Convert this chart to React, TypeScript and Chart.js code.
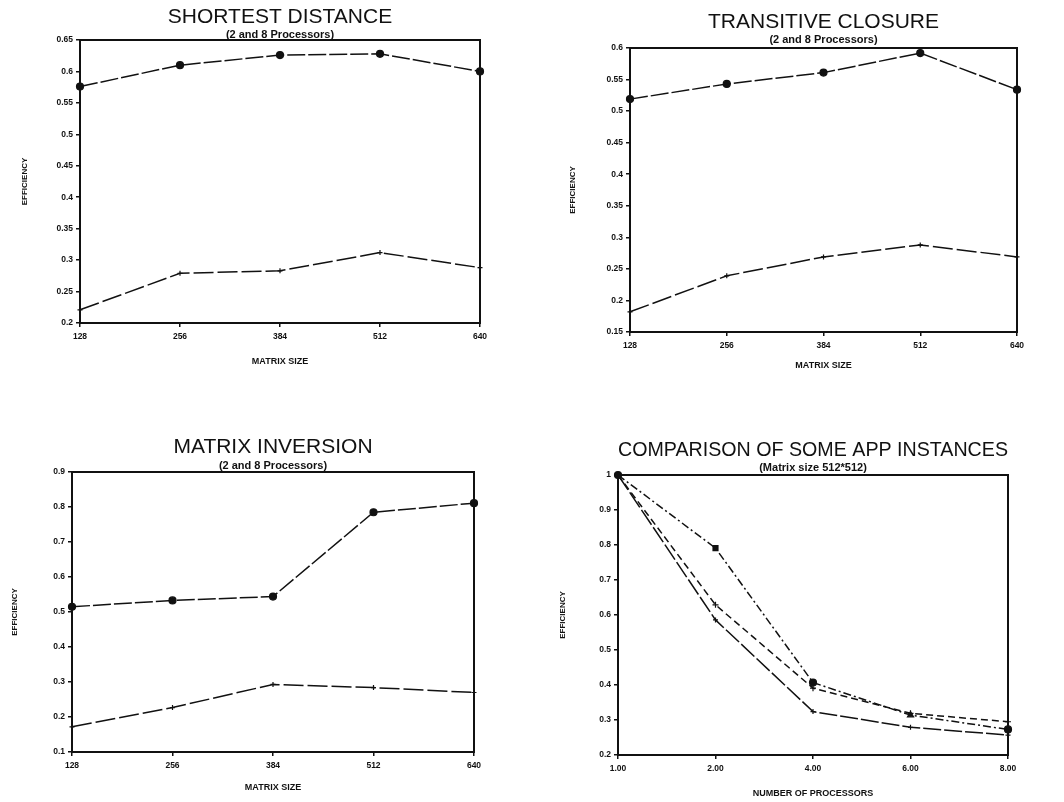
import React, { useEffect, useRef } from 'react';
import { Chart, registerables } from 'chart.js';

Chart.register(...registerables);

// ---- data ----
const matrixSizes = ['128', '256', '384', '512', '640'];

const sdTwoProc = [0.576, 0.61, 0.626, 0.628, 0.6];
const sdEightProc = [0.221, 0.279, 0.283, 0.312, 0.288];

const tcTwoProc = [0.519, 0.543, 0.561, 0.592, 0.534];
const tcEightProc = [0.182, 0.239, 0.269, 0.288, 0.269];

const miTwoProc = [0.515, 0.533, 0.544, 0.785, 0.811];
const miEightProc = [0.172, 0.227, 0.293, 0.284, 0.27];

const processorCounts = ['1.00', '2.00', '4.00', '6.00', '8.00'];
const appSeriesA = [1, 0.791, 0.407, 0.314, 0.273];
const appSeriesB = [1, 0.629, 0.391, 0.319, 0.295];
const appSeriesC = [1, 0.586, 0.324, 0.279, 0.257];

const FONT = '"Liberation Sans", Arial, sans-serif';
const INK = '#111';

const framePlugin = {
  id: 'frame',
  afterDatasetsDraw(chart: any) {
    const { ctx, chartArea: a } = chart;
    ctx.save();
    ctx.strokeStyle = INK;
    ctx.lineWidth = 2;
    ctx.strokeRect(a.left, a.top, a.right - a.left, a.bottom - a.top);
    ctx.restore();
  },
};

function series(data: number[], dash: number[], pointStyle: any, radius: number) {
  return {
    data,
    borderColor: INK,
    backgroundColor: INK,
    borderWidth: 1.5,
    borderDash: dash,
    pointStyle,
    pointRadius: radius,
    pointBorderColor: INK,
    pointBackgroundColor: INK,
    pointBorderWidth: 1.2,
    tension: 0,
    clip: false,
  };
}

type PanelProps = {
  left: number;
  top: number;
  width: number;
  height: number;
  title: string;
  subtitle: string;
  xTitle: string;
  yTitle: string;
  labels: string[];
  datasets: any[];
  yMin: number;
  yMax: number;
  yStep: number;
  yAxisW: number;
  xAxisH: number;
  padRight: number;
  titlePadTop: number;
  titlePadBottom: number;
  subPadBottom: number;
  yTitlePad: number;
  xTitlePad: number;
};

function Panel(p: PanelProps) {
  const ref = useRef<HTMLCanvasElement | null>(null);
  useEffect(() => {
    if (!ref.current) return;
    const tickFont = { family: FONT, size: 8.5, weight: 'bold' as const };
    const chart = new Chart(ref.current, {
      type: 'line',
      data: { labels: p.labels, datasets: p.datasets },
      options: {
        responsive: false,
        animation: false,
        devicePixelRatio: 1,
        layout: { padding: { left: 0, right: p.padRight, top: 0, bottom: 0 } },
        plugins: {
          legend: { display: false },
          tooltip: { enabled: false },
          title: {
            display: true,
            text: p.title,
            fullSize: false,
            color: INK,
            font: { family: FONT, size: 21, weight: 'normal', lineHeight: 1 },
            padding: { top: p.titlePadTop, bottom: p.titlePadBottom },
          },
          subtitle: {
            display: true,
            text: p.subtitle,
            fullSize: false,
            color: INK,
            font: { family: FONT, size: 11, weight: 'bold', lineHeight: 1 },
            padding: { top: 0, bottom: p.subPadBottom },
          },
        },
        scales: {
          x: {
            type: 'category',
            offset: false,
            grid: { display: true, drawOnChartArea: false, drawTicks: true, tickLength: 4, color: INK, lineWidth: 1.5 },
            border: { display: true, color: INK, width: 2 },
            ticks: { color: INK, font: tickFont, padding: 5, maxRotation: 0, autoSkip: false },
            title: {
              display: true,
              text: p.xTitle,
              color: INK,
              font: { family: FONT, size: 9, weight: 'bold', lineHeight: 1 },
              padding: { top: 0, bottom: p.xTitlePad },
            },
            afterFit: (s: any) => {
              s.height = p.xAxisH;
            },
          },
          y: {
            type: 'linear',
            min: p.yMin,
            max: p.yMax,
            grid: { display: true, drawOnChartArea: false, drawTicks: true, tickLength: 4, color: INK, lineWidth: 1.5 },
            border: { display: true, color: INK, width: 2 },
            ticks: {
              color: INK,
              font: tickFont,
              padding: 3,
              stepSize: p.yStep,
              callback: (v: any) => String(Number(Number(v).toFixed(2))),
            },
            title: {
              display: true,
              text: p.yTitle,
              color: INK,
              font: { family: FONT, size: 8, weight: 'bold', lineHeight: 1 },
              padding: { top: p.yTitlePad, bottom: 0 },
            },
            afterFit: (s: any) => {
              s.width = p.yAxisW;
            },
          },
        },
      },
      plugins: [framePlugin],
    } as any);
    return () => chart.destroy();
  }, []);
  return (
    <div style={{ position: 'absolute', left: p.left, top: p.top, width: p.width, height: p.height }}>
      <canvas ref={ref} width={p.width} height={p.height} style={{ display: 'block' }} />
    </div>
  );
}

export default function App() {
  const twoStyle = (d: number[]) => series(d, [18, 3], 'circle', 3.5);
  const eightStyle = (d: number[]) => series(d, [20, 4], 'cross', 2.5);
  return (
    <div style={{ position: 'absolute', left: 0, top: 0, width: 1064, height: 802, background: '#fff', overflow: 'hidden' }}>
      <Panel
        left={0} top={0} width={500} height={380}
        title="SHORTEST DISTANCE" subtitle="(2 and 8 Processors)"
        xTitle="MATRIX SIZE" yTitle="EFFICIENCY"
        labels={matrixSizes}
        datasets={[twoStyle(sdTwoProc), eightStyle(sdEightProc)]}
        yMin={0.2} yMax={0.65} yStep={0.05}
        yAxisW={80} xAxisH={57} padRight={20}
        titlePadTop={7} titlePadBottom={1} subPadBottom={0}
        yTitlePad={21} xTitlePad={14}
      />
      <Panel
        left={520} top={0} width={544} height={380}
        title="TRANSITIVE CLOSURE" subtitle="(2 and 8 Processors)"
        xTitle="MATRIX SIZE" yTitle="EFFICIENCY"
        labels={matrixSizes}
        datasets={[twoStyle(tcTwoProc), eightStyle(tcEightProc)]}
        yMin={0.15} yMax={0.6} yStep={0.05}
        yAxisW={110} xAxisH={48} padRight={47}
        titlePadTop={12} titlePadBottom={1} subPadBottom={3}
        yTitlePad={49} xTitlePad={10}
      />
      <Panel
        left={0} top={400} width={500} height={402}
        title="MATRIX INVERSION" subtitle="(2 and 8 Processors)"
        xTitle="MATRIX SIZE" yTitle="EFFICIENCY"
        labels={matrixSizes}
        datasets={[twoStyle(miTwoProc), eightStyle(miEightProc)]}
        yMin={0.1} yMax={0.9} yStep={0.1}
        yAxisW={72} xAxisH={50} padRight={26}
        titlePadTop={37} titlePadBottom={2} subPadBottom={1}
        yTitlePad={11} xTitlePad={10}
      />
      <Panel
        left={520} top={400} width={544} height={402}
        title="COMPARISON OF SOME APP INSTANCES" subtitle="(Matrix size 512*512)"
        xTitle="NUMBER OF PROCESSORS" yTitle="EFFICIENCY"
        labels={processorCounts}
        datasets={[
          series(appSeriesA, [8, 3, 2, 3], ['circle', 'rect', 'circle', 'triangle', 'circle'], 3.5),
          series(appSeriesB, [7, 4], 'cross', 3),
          series(appSeriesC, [18, 3], 'cross', 2.5),
        ]}
        yMin={0.2} yMax={1} yStep={0.1}
        yAxisW={98} xAxisH={47} padRight={56}
        titlePadTop={40} titlePadBottom={1} subPadBottom={2}
        yTitlePad={39} xTitlePad={4}
      />
    </div>
  );
}
